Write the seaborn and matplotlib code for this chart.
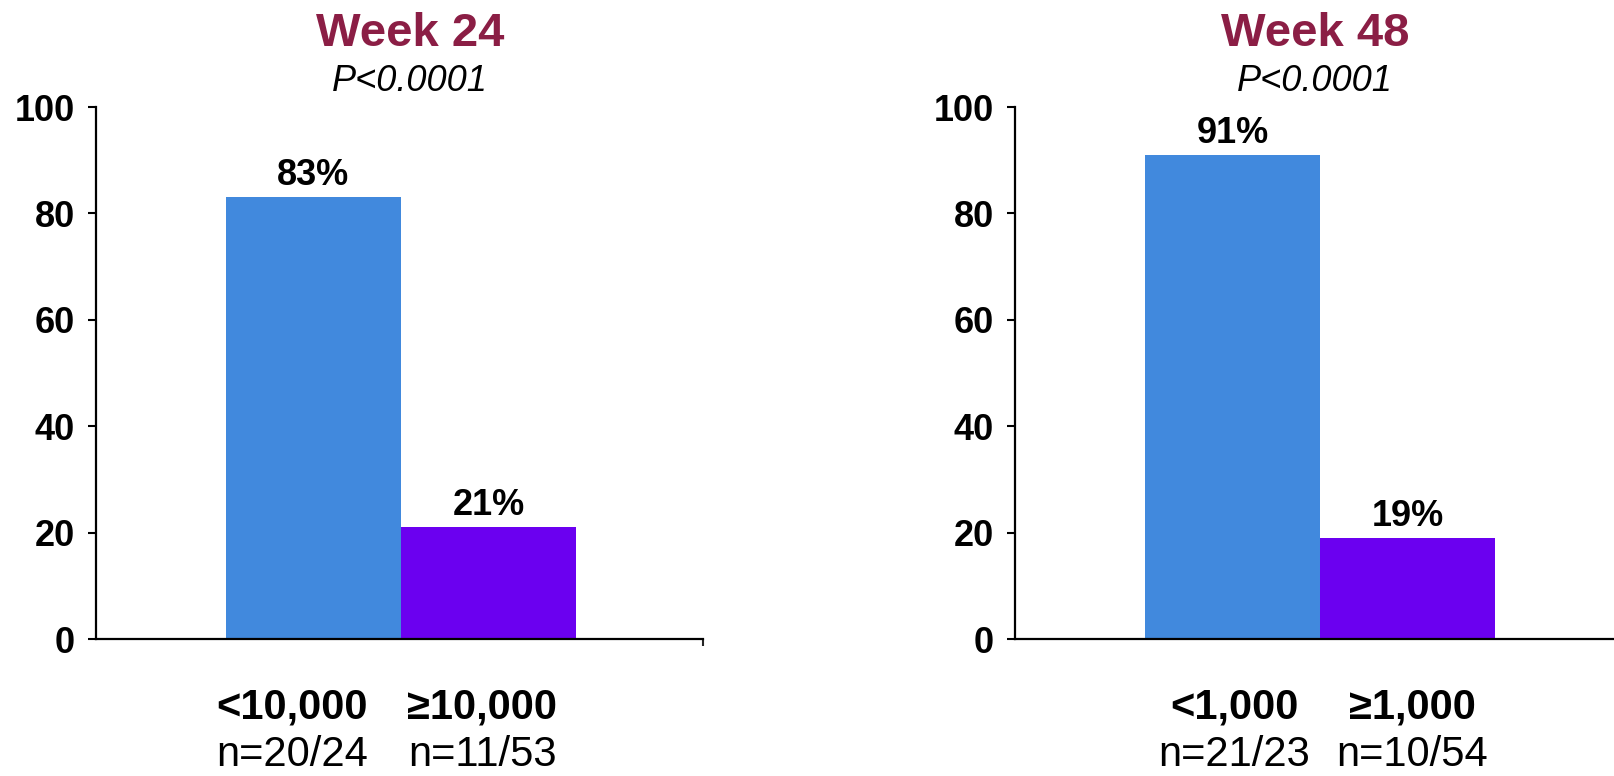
import matplotlib
matplotlib.use("Agg")
import matplotlib.pyplot as plt
import seaborn as sns

sns.set_theme(style="white")
plt.rcParams['font.family'] = ['Liberation Sans', 'DejaVu Sans']

# data
week_titles = ['Week 24', 'Week 48']
p_values = ['P<0.0001', 'P<0.0001']
groups_w24 = ['<10,000', '\u226510,000']
groups_w48 = ['<1,000', '\u22651,000']
pct_w24 = [83, 21]
pct_w48 = [91, 19]
n_w24 = ['n=20/24', 'n=11/53']
n_w48 = ['n=21/23', 'n=10/54']
y_ticks = [0, 20, 40, 60, 80, 100]

bar_colors = ['#4189DD', '#6B00F0']
title_color = '#8B1E45'

fig = plt.figure(figsize=(16.14, 7.76), dpi=100)
ax_left = fig.add_axes([0.0593, 0.1763, 0.3763, 0.6858])
ax_right = fig.add_axes([0.6288, 0.1763, 0.3763, 0.6858])

# axis, title, p text, groups, values, n texts, title x, label x shifts
panels = [
    (ax_left, week_titles[0], p_values[0], groups_w24, pct_w24, n_w24, 0.517, [-0.12, -0.035]),
    (ax_right, week_titles[1], p_values[1], groups_w48, pct_w48, n_w48, 0.494, [0.01, 0.025]),
]

for ax, title, pval, groups, pct, ns, title_x, shifts in panels:
    sns.barplot(x=groups, y=pct, hue=groups, palette=bar_colors, width=1.0,
                legend=False, saturation=1, linewidth=0, edgecolor='none', ax=ax)
    for cont in ax.containers:
        ax.bar_label(cont, fmt='%d%%', padding=3, fontsize=26, fontweight='bold',
                     color='black')

    ax.set_ylim(0, 100)
    ax.set_xlim(-1.244, 2.226)
    ax.set_yticks(y_ticks)
    ax.set_yticklabels([str(t) for t in y_ticks], fontsize=26, fontweight='bold')
    ax.set_xticks([2.226])
    ax.set_xticklabels([''])
    ax.tick_params(axis='y', direction='out', length=6, width=1.5, pad=9,
                   left=True, colors='black')
    ax.tick_params(axis='x', direction='out', length=5, width=1.5, bottom=True)
    for side in ['top', 'right']:
        ax.spines[side].set_visible(False)
    for side in ['left', 'bottom']:
        ax.spines[side].set_color('black')
        ax.spines[side].set_linewidth(1.6)
    ax.set_xlabel('')
    ax.set_ylabel('')

    # category labels under the bars
    for i, (g, n) in enumerate(zip(groups, ns)):
        ax.text(i + shifts[i], -0.128, g, transform=ax.get_xaxis_transform(), ha='center',
                va='center', fontsize=30, fontweight='bold', color='black')
        ax.text(i + shifts[i], -0.218, n, transform=ax.get_xaxis_transform(), ha='center',
                va='center', fontsize=30, color='black')

    ax.text(title_x, 1.138, title, transform=ax.transAxes, ha='center', va='center',
            fontsize=34, fontweight='bold', color=title_color)
    ax.text(title_x, 1.048, pval, transform=ax.transAxes, ha='center', va='center',
            fontsize=26, style='italic', color='black')

fig.savefig('out.png', dpi=100)
